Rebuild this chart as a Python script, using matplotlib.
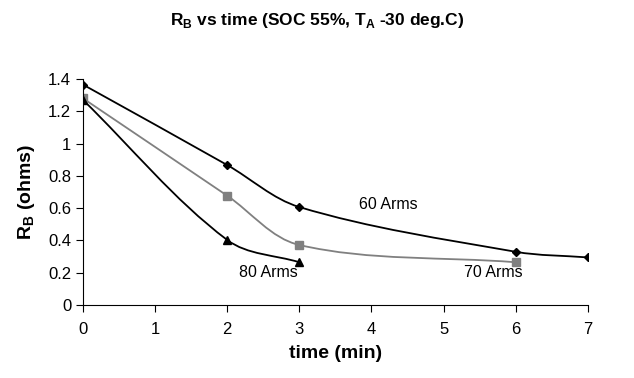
import matplotlib
matplotlib.use("Agg")
import matplotlib.pyplot as plt
import numpy as np
from matplotlib.path import Path
from matplotlib.patches import PathPatch

plt.rcParams['font.family'] = ['Liberation Sans', 'DejaVu Sans']

# data
t_60 = [0, 2, 3, 6, 7]
r_60 = [1.365, 0.867, 0.607, 0.33, 0.295]
t_70 = [0, 2, 3, 6]
r_70 = [1.28, 0.677, 0.372, 0.265]
t_80 = [0, 2, 3]
r_80 = [1.27, 0.403, 0.265]
labels = ["60 Arms", "70 Arms", "80 Arms"]


def smooth_path(ax, x, y):
    # smoothed line like a spreadsheet chart: built in screen space, mapped back to data
    trans = ax.transData
    pts = trans.transform(np.column_stack([x, y]).astype(float))
    n = len(pts)
    tang = []
    for i in range(n):
        a = pts[max(i - 1, 0)]
        b = pts[min(i + 1, n - 1)]
        d = b - a
        tang.append(d / np.hypot(*d))
    verts = [pts[0]]
    codes = [Path.MOVETO]
    for i in range(n - 1):
        p1, p2 = pts[i], pts[i + 1]
        L = np.hypot(*(p2 - p1)) / 3.0
        verts += [p1 + tang[i] * L, p2 - tang[i + 1] * L, p2]
        codes += [Path.CURVE4] * 3
    verts = trans.inverted().transform(np.array(verts))
    return Path(verts, codes)


fig = plt.figure(figsize=(6.34, 3.78), dpi=100)
ax = fig.add_axes([0.131, 0.193, 0.796, 0.598])
ax.set_xlim(0, 7)
ax.set_ylim(0, 1.4)

series = [
    (t_60, r_60, 'black', 'D', 4.5),
    (t_70, r_70, '#808080', 's', 6),
    (t_80, r_80, 'black', '^', 6),
]
for x, y, c, m, ms in series:
    ax.add_patch(PathPatch(smooth_path(ax, x, y), facecolor='none', edgecolor=c, lw=1.3))
    ax.plot(x, y, linestyle='none', marker=m, color=c, markersize=ms)

ax.text(4.23, 0.62, labels[0], ha='center', va='center', fontsize=11.5)
ax.text(5.69, 0.20, labels[1], ha='center', va='center', fontsize=11.5)
ax.text(2.57, 0.20, labels[2], ha='center', va='center', fontsize=11.5)

ax.set_xticks(range(0, 8))
ax.set_yticks([0, 0.2, 0.4, 0.6, 0.8, 1.0, 1.2, 1.4])
ax.set_yticklabels(['0', '0.2', '0.4', '0.6', '0.8', '1', '1.2', '1.4'])
ax.spines['top'].set_visible(False)
ax.spines['right'].set_visible(False)
ax.tick_params(direction='out', length=5, labelsize=12)
ax.tick_params(axis='x', pad=7)
ax.set_xlabel('time (min)', fontsize=14, fontweight='bold', labelpad=6)
ax.set_ylabel(r'R$_\mathregular{B}$ (ohms)', fontsize=14, fontweight='bold', labelpad=8)
fig.text(0.5, 0.945, r'R$_\mathregular{B}$ vs time (SOC 55%, T$_\mathregular{A}$ -30 deg.C)',
         ha='center', va='center', fontsize=12.5, fontweight='bold')

fig.savefig('out.png', dpi=100)
